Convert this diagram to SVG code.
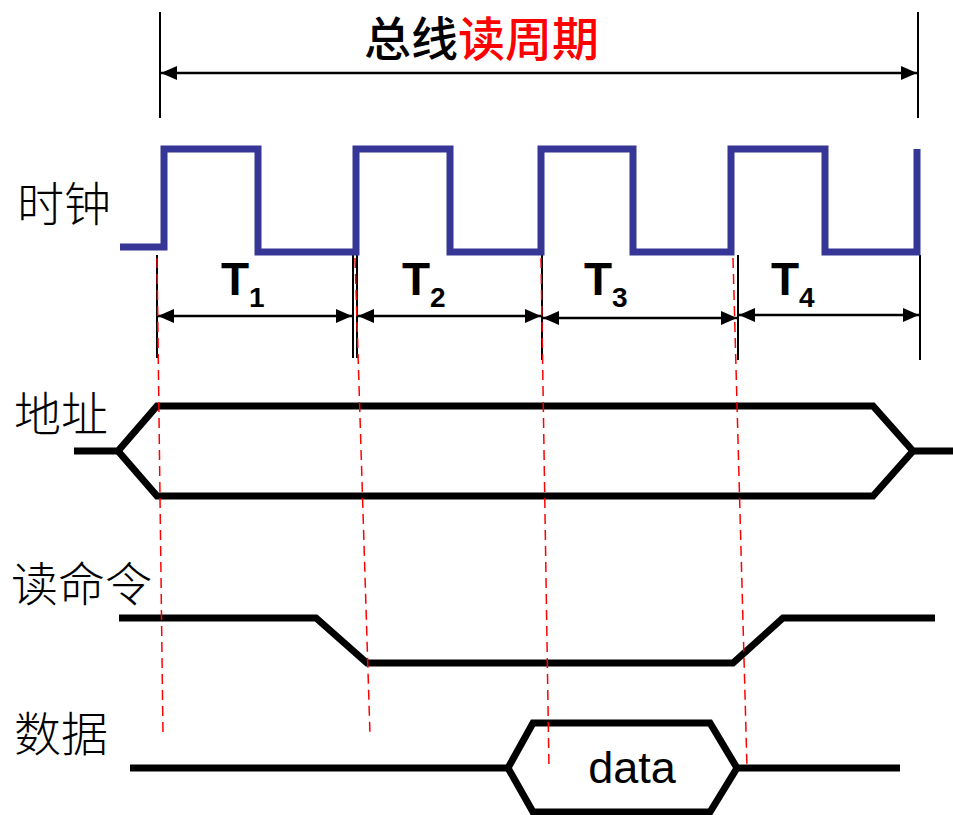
<svg xmlns="http://www.w3.org/2000/svg" width="953" height="815" viewBox="0 0 953 815">
<style>
.cjk{font-family:"Noto Sans CJK SC","Noto Sans",sans-serif;font-size:47px;font-weight:300;fill:#000}
.title{font-family:"Noto Sans CJK SC",sans-serif;font-size:47px;font-weight:500}
.t{font-family:"Liberation Sans",Arial,sans-serif;font-weight:bold;fill:#000}
.sig{fill:none;stroke:#000;stroke-width:7;stroke-linejoin:miter}
.clk{fill:none;stroke:#363696;stroke-width:7}
.thin{stroke:#000;stroke-width:2;fill:none}
.dim{stroke:#000;stroke-width:2.5;fill:none}
.red{stroke:#ff0000;stroke-width:1.5;stroke-dasharray:10 6;fill:none}
</style>
<defs>
<marker id="ah" viewBox="0 0 16 14" refX="16" refY="7" markerWidth="16" markerHeight="14" markerUnits="userSpaceOnUse" orient="auto-start-reverse">
<path d="M0,0 L16,7 L0,14 Z" fill="#000"/>
</marker>
</defs>
<g id="title">
<text class="title" x="364" y="56"><tspan fill="#000">总线</tspan><tspan fill="#ff0000">读周期</tspan></text>
</g>
<g id="labels">
<text id="lbl-clock" class="cjk" x="17" y="221">时钟</text>
<text id="lbl-addr" class="cjk" x="14" y="431">地址</text>
<text id="lbl-read" class="cjk" x="11" y="601">读命令</text>
<text id="lbl-data" class="cjk" x="14" y="751">数据</text>
</g>
<g id="connectors">
<line class="thin" x1="160" y1="12" x2="160" y2="118"/>
<line class="thin" x1="918" y1="12" x2="918" y2="118"/>
<line class="dim" x1="161" y1="73" x2="917" y2="73" marker-start="url(#ah)" marker-end="url(#ah)"/>
<line class="thin" x1="157" y1="255" x2="157" y2="358"/>
<line class="thin" x1="353" y1="255" x2="353" y2="358"/>
<line class="thin" x1="357" y1="255" x2="357" y2="358"/>
<line class="thin" x1="542" y1="255" x2="542" y2="360"/>
<line class="thin" x1="738" y1="255" x2="738" y2="360"/>
<line class="thin" x1="920" y1="255" x2="920" y2="360"/>
<line class="dim" x1="158" y1="316" x2="352" y2="316" marker-start="url(#ah)" marker-end="url(#ah)"/>
<line class="dim" x1="358" y1="316" x2="541" y2="316" marker-start="url(#ah)" marker-end="url(#ah)"/>
<line class="dim" x1="543" y1="318" x2="737" y2="318" marker-start="url(#ah)" marker-end="url(#ah)"/>
<line class="dim" x1="739" y1="315" x2="919" y2="315" marker-start="url(#ah)" marker-end="url(#ah)"/>
</g>
<g id="clock">
<path class="clk" d="M120,247 H164 V149 H258 V252 H356 V149 H450 V252 H541 V149 H633 V252 H731 V149 H825 V252 H917 V149"/>
</g>
<g id="period-labels">
<text class="t" x="221" y="295" font-size="46">T<tspan font-size="28" dy="12">1</tspan></text>
<text class="t" x="402" y="295" font-size="46">T<tspan font-size="28" dy="12">2</tspan></text>
<text class="t" x="584" y="295" font-size="46">T<tspan font-size="28" dy="12">3</tspan></text>
<text class="t" x="771" y="295" font-size="46">T<tspan font-size="28" dy="12">4</tspan></text>
</g>
<g id="address">
<path class="sig" d="M74,451 H118 L157,406 H873 L913,451 H953"/>
<path class="sig" d="M118,451 L157,496 H873 L913,451"/>
</g>
<g id="read-cmd">
<path class="sig" d="M119,618 H316 L367,663 H733 L783,618 H935"/>
</g>
<g id="data">
<path class="sig" d="M130,768 H508 L533,723 H710 L737,768 H900"/>
<path class="sig" d="M508,768 L533,812 H710 L737,768"/>
<text x="632" y="783" text-anchor="middle" font-family="'Liberation Sans',Arial,sans-serif" font-size="45" fill="#000">data</text>
</g>
<g id="guides">
<line class="red" x1="157" y1="258" x2="163" y2="735"/>
<line class="red" x1="355" y1="258" x2="370" y2="735"/>
<line class="red" x1="541" y1="258" x2="549" y2="770"/>
<line class="red" x1="733" y1="258" x2="747" y2="768"/>
</g>
</svg>
